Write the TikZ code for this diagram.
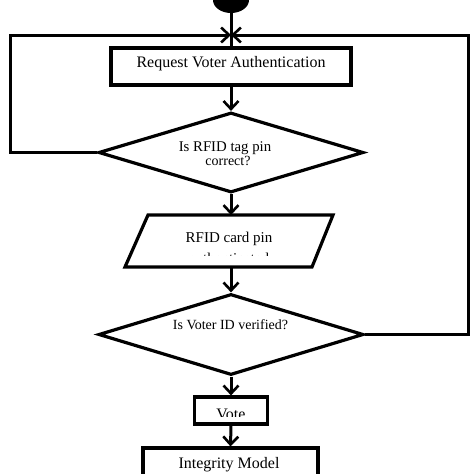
\documentclass[tikz,border=0pt]{standalone}
\usepackage{fontspec}
\setmainfont{Liberation Serif}
\usetikzlibrary{arrows.meta,shapes.geometric}
\tikzset{
  shapeline/.style={draw=black, line width=3.2pt},
  boxnode/.style={shapeline, rectangle, inner sep=0pt},
  decnode/.style={shapeline, diamond, inner sep=0pt, aspect=3.3},
  conn/.style={draw=black, line width=3pt},
  arr/.style={conn, -{Straight Barb[length=8pt,width=15pt,line width=2.6pt]}},
  lbl/.style={anchor=base, inner sep=0pt, font=\fontsize{16}{18}\selectfont},
  plbl/.style={lbl, font=\fontsize{15}{17}\selectfont},
  dlbl/.style={lbl, font=\fontsize{14}{15}\selectfont},
  dlblb/.style={lbl, font=\fontsize{14.8}{15}\selectfont}
}
\begin{document}
\begin{tikzpicture}[x=1pt,y=-1pt]
\clip (0,0) rectangle (474,474);
\fill[white] (0,0) rectangle (474,474);

% start
\node[ellipse, fill=black, minimum width=36pt, minimum height=26pt, inner sep=0pt] (st) at (231,0) {};

% shapes
\node[boxnode, minimum width=240pt, minimum height=37pt] (b1) at (231,66.5) {};
\node[decnode, minimum width=265pt, minimum height=80pt] (d1) at (231,152.5) {};
\draw[shapeline] (125,267) -- (148,215) -- (333,215) -- (312,267) -- cycle;
\coordinate (pin) at (231,215);
\coordinate (pout) at (231,267);
\node[decnode, minimum width=265pt, minimum height=81pt] (d2) at (231,334.5) {};
\node[boxnode, minimum width=73pt, minimum height=27pt] (v) at (231,410.5) {};
\node[boxnode, minimum width=175pt, minimum height=44pt] (im) at (230.5,470) {};

% texts
\node[lbl] (t1) at (231,67.5) {Request Voter Authentication};
\node[dlblb] (t2a) at (225,151) {Is RFID tag pin};
\node[dlbl] (t2b) at (228,165) {correct?};
\node[plbl] (t3a) at (229,242) {RFID card pin};
\begin{scope}
  \clip (140,244) rectangle (320,255);
  \node[plbl] (t3b) at (229,263.5) {authenticated};
\end{scope}
\node[dlbl] (t4) at (230.5,329) {Is Voter ID verified?};
\begin{scope}
  \clip (197,399) rectangle (266,416.5);
  \node[lbl] (t5) at (231,419) {Vote};
\end{scope}
\node[lbl] (t6) at (229,468) {Integrity Model};

% connectors
\coordinate (j) at (231,35);
\coordinate (lt) at (10,35);
\coordinate (rt) at (468,35);
\draw[conn] (st.south) -- (b1.north);
\draw[arr] (d1.west) -| (lt) -- (j);
\draw[arr] (d2.east) -| (rt) -- (j);
\draw[arr] (b1.south) -- (d1.north);
\draw[arr] (d1.south) -- (pin);
\draw[arr] (pout) -- (d2.north);
\draw[arr] (d2.south) -- (v.north);
\draw[arr] (v.south) -- (im.north);
\end{tikzpicture}
\end{document}
